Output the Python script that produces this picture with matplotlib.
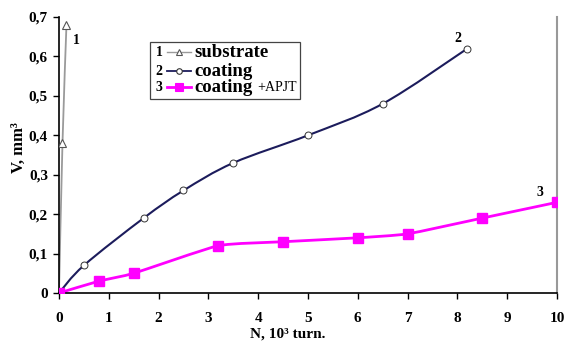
import matplotlib.pyplot as plt
from matplotlib.path import Path
from matplotlib.patches import PathPatch, Rectangle
import numpy as np

plt.rcParams['font.family'] = ['Liberation Serif', 'DejaVu Serif']
plt.rcParams['font.weight'] = 'bold'

# data
n_substrate = [0.0, 0.07, 0.15]
v_substrate = [0.0, 0.38, 0.68]

n_coating = [0.0, 0.5, 1.7, 2.5, 3.5, 5.0, 6.5, 8.2]
v_coating = [0.0, 0.07, 0.19, 0.26, 0.33, 0.40, 0.48, 0.62]

n_apjt = [0.0, 0.8, 1.5, 3.2, 4.5, 6.0, 7.0, 8.5, 10.0]
v_apjt = [0.0, 0.03, 0.05, 0.12, 0.13, 0.14, 0.15, 0.19, 0.23]

x_ticks = list(range(0, 11))
y_ticks = [0.0, 0.1, 0.2, 0.3, 0.4, 0.5, 0.6, 0.7]
y_tick_labels = ["0", "0,1", "0,2", "0,3", "0,4", "0,5", "0,6", "0,7"]

c_sub = "#9a9a9a"
c_coat = "#1c1c5c"
c_apjt = "#ff00ff"


def smooth_path(xs, ys, k=1/6):
    # excel-like smoothed line: bezier through the points
    xs = np.asarray(xs, float)
    ys = np.asarray(ys, float)
    verts = [(xs[0], ys[0])]
    codes = [Path.MOVETO]
    n = len(xs)
    for i in range(n - 1):
        p0 = (xs[max(i - 1, 0)], ys[max(i - 1, 0)])
        p1 = (xs[i], ys[i])
        p2 = (xs[i + 1], ys[i + 1])
        p3 = (xs[min(i + 2, n - 1)], ys[min(i + 2, n - 1)])
        c1 = (p1[0] + (p2[0] - p0[0]) * k, p1[1] + (p2[1] - p0[1]) * k)
        c2 = (p2[0] - (p3[0] - p1[0]) * k, p2[1] - (p3[1] - p1[1]) * k)
        verts += [c1, c2, p2]
        codes += [Path.CURVE4] * 3
    return Path(verts, codes)


fig = plt.figure(figsize=(5.67, 3.42), dpi=100)
ax = fig.add_axes([59 / 567, 1 - 293 / 342, 498 / 567, 276 / 342])

# curves
ax.add_patch(PathPatch(smooth_path(n_substrate, v_substrate), fill=False,
                       edgecolor=c_sub, lw=1.3))
ax.plot(n_substrate, v_substrate, ls="none", marker="^", ms=6,
        mfc="white", mec="#555555", mew=0.8, zorder=4)

ax.add_patch(PathPatch(smooth_path(n_coating, v_coating), fill=False,
                       edgecolor=c_coat, lw=1.5))
ax.plot(n_coating, v_coating, ls="none", marker="o", ms=5,
        mfc="white", mec="#333333", mew=0.7, zorder=4)

ax.add_patch(PathPatch(smooth_path(n_apjt, v_apjt, k=0.08), fill=False,
                       edgecolor=c_apjt, lw=2))
ax.plot(n_apjt, v_apjt, ls="none", marker="s", ms=6.5,
        mfc=c_apjt, mec=c_apjt, zorder=4)

# curve numbers
ax.text(0.28, 0.64, "1", fontsize=10, ha="left", va="center")
ax.text(8.0, 0.645, "2", fontsize=10, ha="center", va="center")
ax.text(9.65, 0.255, "3", fontsize=10, ha="center", va="center")

ax.set_xlim(0, 10)
ax.set_ylim(0, 0.7)
ax.set_xticks(x_ticks)
ax.set_yticks(y_ticks)
ax.set_yticklabels(y_tick_labels)
ax.tick_params(direction="out", length=4, width=1, labelsize=11)
ax.tick_params(axis="x", pad=10)
ax.tick_params(axis="y", pad=4)
for lab in ax.get_xticklabels() + ax.get_yticklabels():
    lab.set_fontweight("bold")

ax.spines["top"].set_visible(False)
ax.spines["right"].set_color("#999999")
ax.spines["right"].set_linewidth(1.5)
ax.spines["left"].set_linewidth(1.2)
ax.spines["bottom"].set_linewidth(1.2)

# axis titles
fig.text(288 / 567, 1 - 334 / 342, "N, 10³ turn.", fontsize=11,
         fontweight="bold", ha="center", va="center")
fig.text(19 / 567, 1 - 148 / 342, "V, mm³", fontsize=12,
         fontweight="bold", ha="center", va="center", rotation=90)

# hand-drawn legend box
ax.add_patch(Rectangle((0.183, 0.703), 0.301, 0.206, transform=ax.transAxes,
                       fill=False, edgecolor="#444444", lw=0.9, zorder=5))
rows = [
    ("1", c_sub, "^", "white", "#555555", 1.0, 6, "substrate"),
    ("2", c_coat, "o", "white", "#333333", 1.3, 5, "coating"),
    ("3", c_apjt, "s", c_apjt, c_apjt, 2.0, 6.5, "coating"),
]
row_y = [0.873, 0.804, 0.746]
for (num, col, mk, mfc, mec, lw, ms, label), yy in zip(rows, row_y):
    ax.text(0.201, yy, num, transform=ax.transAxes, fontsize=10,
            ha="center", va="center", zorder=6)
    ax.plot([0.216, 0.265], [yy, yy], transform=ax.transAxes, color=col,
            lw=lw, zorder=6, clip_on=False)
    ax.plot([0.2405], [yy], transform=ax.transAxes, marker=mk, ms=ms - 1,
            mfc=mfc, mec=mec, mew=0.8, zorder=7, clip_on=False)
    ax.text(0.272, yy, label, transform=ax.transAxes, fontsize=13.5,
            ha="left", va="center", zorder=6)
ax.text(0.398, row_y[2], "+APJT", transform=ax.transAxes, fontsize=10,
        fontweight="normal", ha="left", va="center", zorder=6)

fig.savefig("out.png", dpi=100)
